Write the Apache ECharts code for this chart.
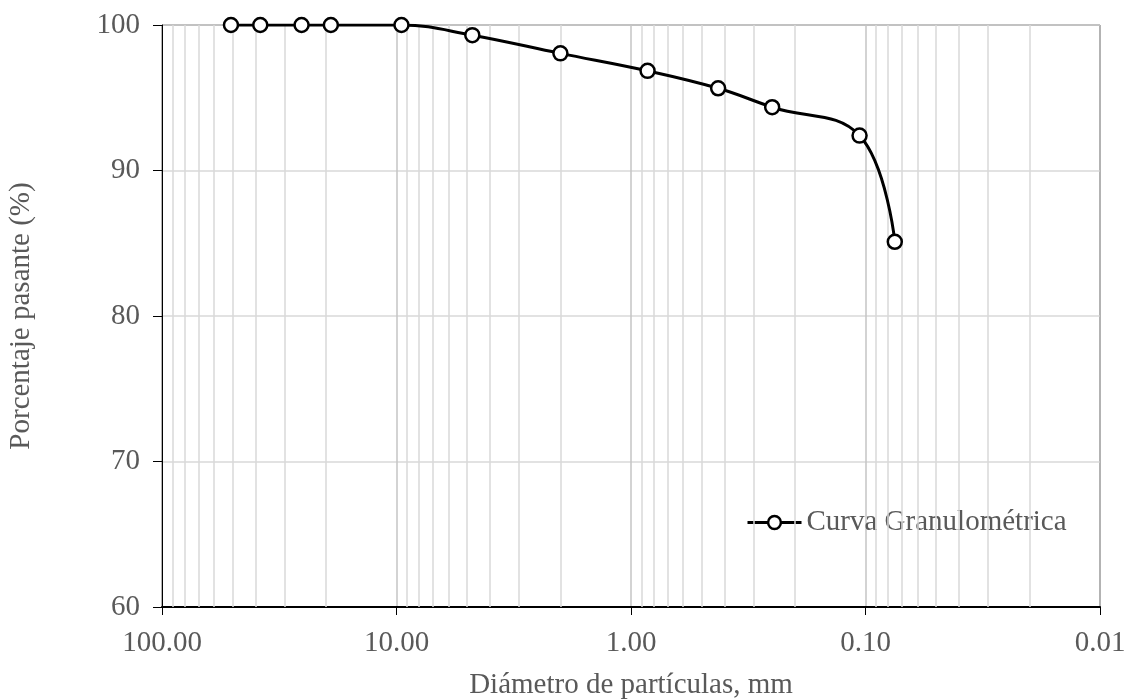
<!DOCTYPE html>
<html><head><meta charset="utf-8">
<script src="https://cdn.jsdelivr.net/npm/echarts@6/dist/echarts.min.js"></script>
<style>html,body{margin:0;padding:0;background:#fff}#c{width:1129px;height:699px}</style>
</head><body><div id="c"></div>
<script>
const seriesName = 'Curva Granulométrica';
const diameters = [50.8, 38.1, 25.4, 19.05, 9.525, 4.75, 2.0, 0.85, 0.425, 0.25, 0.106, 0.075];
const passing   = [100, 100, 100, 100, 100, 99.3, 98.05, 96.85, 95.65, 94.35, 92.4, 85.1];
const yTicks = [60, 70, 80, 90, 100];
const xTitle = 'Diámetro de partículas, mm';
const yTitle = 'Porcentaje pasante (%)';

const minorGrid = [];
[0.01, 0.1, 1, 10].forEach(d => { for (let k = 2; k <= 9; k++) minorGrid.push(+(d * k).toPrecision(3)); });

const font = '"Liberation Serif", "Times New Roman", serif';
const fs = 29;
const txt = '#595959';
const chart = echarts.init(document.getElementById('c'), null, {renderer: 'canvas'});
chart.setOption({
  animation: false,
  grid: {left: 162, right: 29, top: 25, bottom: 92, show: true, borderColor: '#000', borderWidth: 1,
         containLabel: false, outerBoundsMode: 'none'},
  legend: {
    data: [seriesName], left: 746, top: 508, padding: 0, itemWidth: 54, itemHeight: 16,
    lineStyle: {color: '#000', width: 3},
    itemStyle: {color: '#fff', borderColor: '#000', borderWidth: 2.5},
    textStyle: {fontFamily: font, fontSize: fs, color: txt}
  },
  xAxis: {
    type: 'log', logBase: 10, min: 0.01, max: 100, inverse: true,
    name: xTitle, nameLocation: 'middle', nameGap: 64,
    nameTextStyle: {fontFamily: font, fontSize: fs, color: txt},
    axisLine: {lineStyle: {color: '#000', width: 2}},
    axisTick: {show: true, length: 8, lineStyle: {color: '#000', width: 1}},
    axisLabel: {margin: 22, fontFamily: font, fontSize: fs, color: txt, formatter: v => (+v).toFixed(2)},
    splitLine: {show: true, lineStyle: {color: '#c4c4c4', width: 1.5}}
  },
  yAxis: {
    type: 'value', min: 60, max: 100, interval: 10,
    name: yTitle, nameLocation: 'middle', nameGap: 126, nameRotate: 90,
    nameTextStyle: {fontFamily: font, fontSize: fs, color: txt},
    axisLine: {show: true, lineStyle: {color: '#000', width: 1}},
    axisTick: {show: true, length: 9, lineStyle: {color: '#000'}},
    axisLabel: {margin: 22, fontFamily: font, fontSize: fs, color: txt},
    splitLine: {show: true, lineStyle: {color: '#d9d9d9', width: 1.5}}
  },
  series: [
    {
      type: 'line', data: [], z: 1, silent: true,
      markLine: {
        silent: true, symbol: 'none', animation: false,
        label: {show: false},
        lineStyle: {color: '#d9d9d9', width: 1.5, type: 'solid'},
        data: minorGrid.map(v => ({xAxis: v}))
      }
    },
    {
      name: seriesName, type: 'line', z: 5,
      data: diameters.map((d, i) => [d, passing[i]]),
      smooth: 0.4,
      symbol: 'circle', symbolSize: 14,
      itemStyle: {color: '#fff', borderColor: '#000', borderWidth: 2.5},
      lineStyle: {color: '#000', width: 3}
    }
  ]
});
</script></body></html>
